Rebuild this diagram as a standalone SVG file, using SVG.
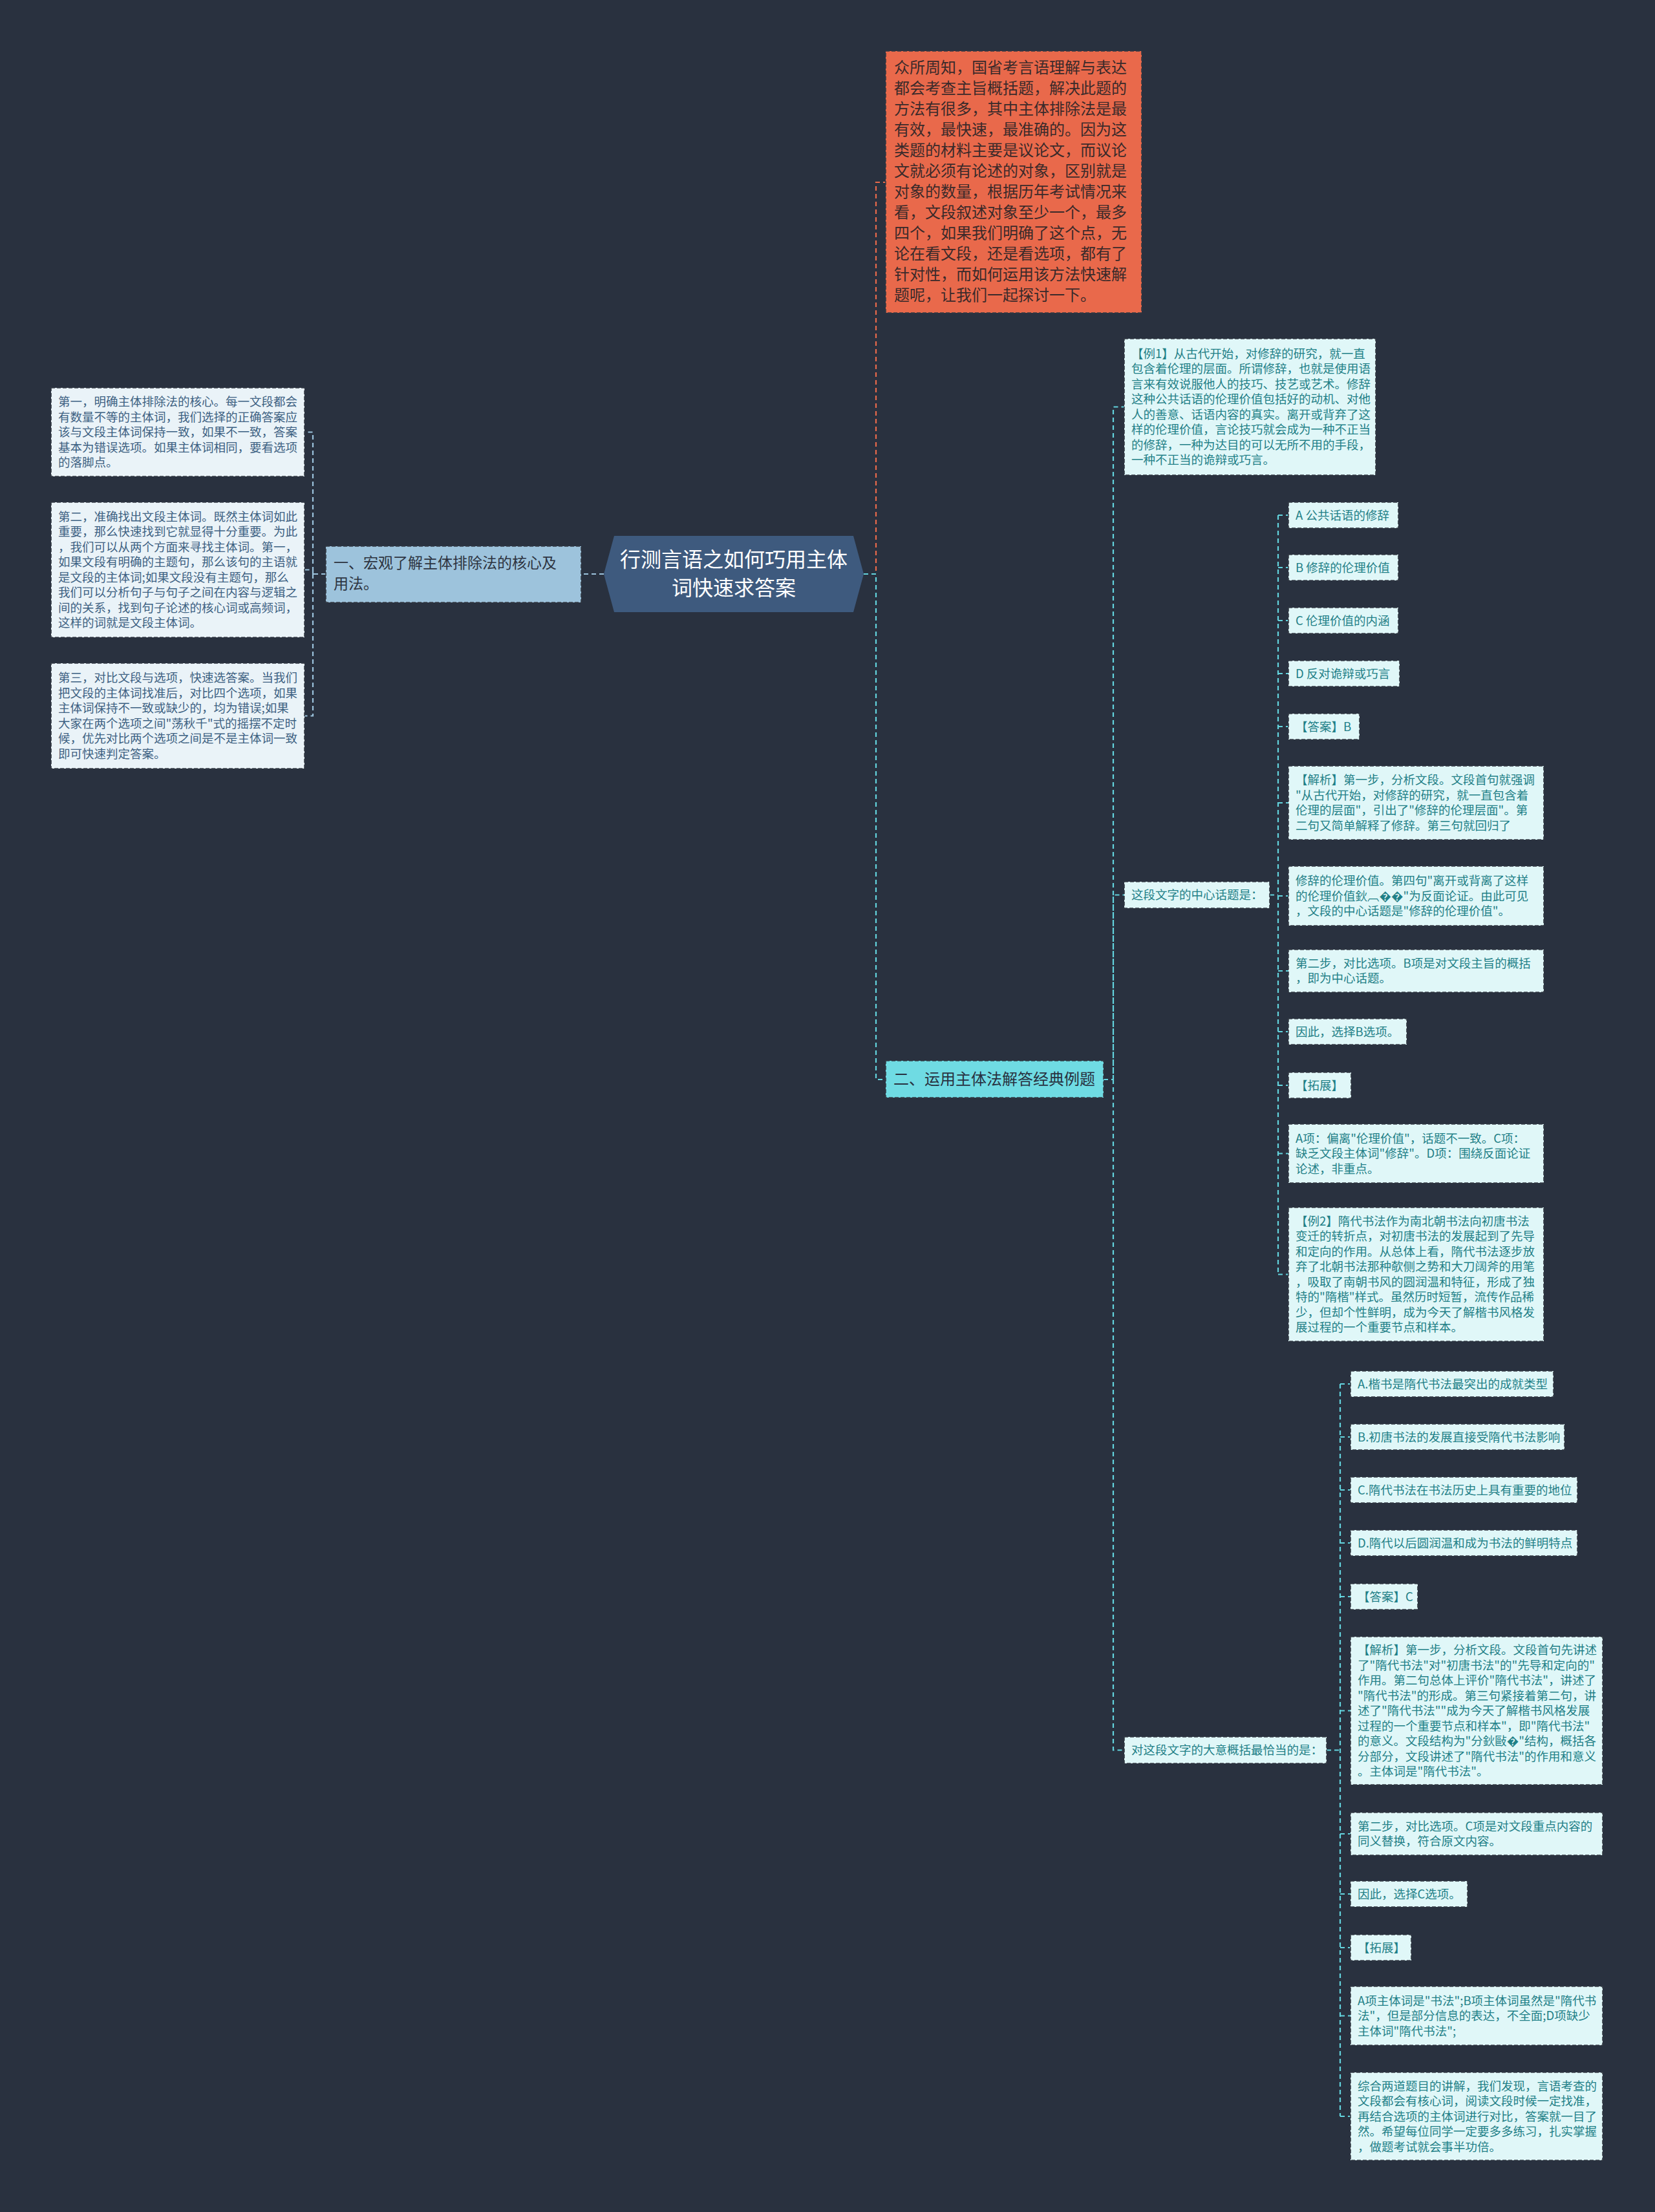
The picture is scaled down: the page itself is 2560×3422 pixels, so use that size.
<svg xmlns="http://www.w3.org/2000/svg" width="2560" height="3422" viewBox="0 0 2560 3422">
<style>
text{font-family:"Noto Sans CJK SC","Noto Sans",sans-serif;}
.bd{stroke:#333a44;stroke-width:1.6;stroke-dasharray:6,3;}
.lf{fill:#e0f7f8;}
.lt{fill:#1f8087;font-size:18.5px;}
.ll{fill:#eaf3f8;}
.llt{fill:#3d6182;font-size:18.5px;}
.cn{fill:none;stroke-width:2.2;stroke-dasharray:7,5;}
.cy{stroke:#63d4de;}
.lb{stroke:#9cc3dd;}
.or{stroke:#e9694b;}
</style>
<rect x="0" y="0" width="2560" height="3422" fill="#29313f"/>

<g id="connectors">
<path class="cn lb" d="M934 888 H899"/>
<path class="cn lb" d="M504 888 H484 V668.5 H471 M484 888 V881.5 H471 M484 888 V1107.5 H471"/>
<path class="cn or" d="M1336 888 H1355 V282 H1370"/>
<path class="cn cy" d="M1336 888 H1355 V1670 H1370"/>
<path class="cn cy" d="M1707 1670 H1722 V629.5 H1739 M1722 1670 V1384.5 H1739 M1722 1670 V2707.5 H1739"/>
<path class="cn cy" d="M1964 1384.5 H1977 M1977 797 V1971.5 M1977 797 H1993 M1977 878 H1993 M1977 960 H1993 M1977 1042 H1993 M1977 1124 H1993 M1977 1242 H1993 M1977 1386 H1993 M1977 1502 H1993 M1977 1596 H1993 M1977 1679 H1993 M1977 1784.5 H1993 M1977 1971.5 H1993"/>
<path class="cn cy" d="M2052 2707.5 H2073 M2073 2141 V3274 M2073 2141 H2089 M2073 2223 H2089 M2073 2305 H2089 M2073 2387 H2089 M2073 2470 H2089 M2073 2646.5 H2089 M2073 2837 H2089 M2073 2930 H2089 M2073 3013 H2089 M2073 3118.5 H2089 M2073 3274 H2089"/>
</g>

<g id="root">
<polygon points="934,888 950,829 1320,829 1336,888 1320,947 950,947" fill="#3e5a7e"/>
<text x="1135" y="877" fill="#ffffff" font-size="32" text-anchor="middle">行测言语之如何巧用主体</text>
<text x="1135" y="921" fill="#ffffff" font-size="32" text-anchor="middle">词快速求答案</text>
</g>

<g id="intro">
<rect x="1370" y="79" width="396" height="405" fill="#e9694b" class="bd"/>
<text x="1383" y="113" fill="#3a2a2a" font-size="24">
<tspan x="1383">众所周知，国省考言语理解与表达</tspan>
<tspan x="1383" dy="32">都会考查主旨概括题，解决此题的</tspan>
<tspan x="1383" dy="32">方法有很多，其中主体排除法是最</tspan>
<tspan x="1383" dy="32">有效，最快速，最准确的。因为这</tspan>
<tspan x="1383" dy="32">类题的材料主要是议论文，而议论</tspan>
<tspan x="1383" dy="32">文就必须有论述的对象，区别就是</tspan>
<tspan x="1383" dy="32">对象的数量，根据历年考试情况来</tspan>
<tspan x="1383" dy="32">看，文段叙述对象至少一个，最多</tspan>
<tspan x="1383" dy="32">四个，如果我们明确了这个点，无</tspan>
<tspan x="1383" dy="32">论在看文段，还是看选项，都有了</tspan>
<tspan x="1383" dy="32">针对性，而如何运用该方法快速解</tspan>
<tspan x="1383" dy="32">题呢，让我们一起探讨一下。</tspan>
</text>
</g>

<g id="branch1">
<rect x="504" y="845" width="395" height="87" fill="#9dc3dc" class="bd"/>
<text x="516" y="879" fill="#2d3340" font-size="23">
<tspan x="516">一、宏观了解主体排除法的核心及</tspan>
<tspan x="516" dy="32">用法。</tspan>
</text>
</g>

<g id="left1">
<rect x="79" y="600" width="392" height="137" class="ll bd"/>
<text x="90" y="628" class="llt">
<tspan x="90">第一，明确主体排除法的核心。每一文段都会</tspan>
<tspan x="90" dy="23.5">有数量不等的主体词，我们选择的正确答案应</tspan>
<tspan x="90" dy="23.5">该与文段主体词保持一致，如果不一致，答案</tspan>
<tspan x="90" dy="23.5">基本为错误选项。如果主体词相同，要看选项</tspan>
<tspan x="90" dy="23.5">的落脚点。</tspan>
</text>
</g>
<g id="left2">
<rect x="79" y="777" width="392" height="209" class="ll bd"/>
<text x="90" y="805.75" class="llt">
<tspan x="90">第二，准确找出文段主体词。既然主体词如此</tspan>
<tspan x="90" dy="23.5">重要，那么快速找到它就显得十分重要。为此</tspan>
<tspan x="90" dy="23.5">，我们可以从两个方面来寻找主体词。第一，</tspan>
<tspan x="90" dy="23.5">如果文段有明确的主题句，那么该句的主语就</tspan>
<tspan x="90" dy="23.5">是文段的主体词;如果文段没有主题句，那么</tspan>
<tspan x="90" dy="23.5">我们可以分析句子与句子之间在内容与逻辑之</tspan>
<tspan x="90" dy="23.5">间的关系，找到句子论述的核心词或高频词，</tspan>
<tspan x="90" dy="23.5">这样的词就是文段主体词。</tspan>
</text>
</g>
<g id="left3">
<rect x="79" y="1026" width="392" height="163" class="ll bd"/>
<text x="90" y="1055.25" class="llt">
<tspan x="90">第三，对比文段与选项，快速选答案。当我们</tspan>
<tspan x="90" dy="23.5">把文段的主体词找准后，对比四个选项，如果</tspan>
<tspan x="90" dy="23.5">主体词保持不一致或缺少的，均为错误;如果</tspan>
<tspan x="90" dy="23.5">大家在两个选项之间"荡秋千"式的摇摆不定时</tspan>
<tspan x="90" dy="23.5">候，优先对比两个选项之间是不是主体词一致</tspan>
<tspan x="90" dy="23.5">即可快速判定答案。</tspan>
</text>
</g>

<g id="branch2">
<rect x="1370" y="1641" width="337" height="57" fill="#6fdbe3" class="bd"/>
<text x="1382" y="1678" fill="#283140" font-size="24">二、运用主体法解答经典例题</text>
</g>

<g id="ex1">
<rect x="1739" y="524" width="389" height="211" class="lf bd"/>
<text x="1750" y="553.75" class="lt">
<tspan x="1750">【例1】从古代开始，对修辞的研究，就一直</tspan>
<tspan x="1750" dy="23.5">包含着伦理的层面。所谓修辞，也就是使用语</tspan>
<tspan x="1750" dy="23.5">言来有效说服他人的技巧、技艺或艺术。修辞</tspan>
<tspan x="1750" dy="23.5">这种公共话语的伦理价值包括好的动机、对他</tspan>
<tspan x="1750" dy="23.5">人的善意、话语内容的真实。离开或背弃了这</tspan>
<tspan x="1750" dy="23.5">样的伦理价值，言论技巧就会成为一种不正当</tspan>
<tspan x="1750" dy="23.5">的修辞，一种为达目的可以无所不用的手段，</tspan>
<tspan x="1750" dy="23.5">一种不正当的诡辩或巧言。</tspan>
</text>
</g>

<g id="q1">
<rect x="1739" y="1364" width="225" height="41" class="lf bd"/>
<text x="1750" y="1391" class="lt">这段文字的中心话题是：</text>
</g>

<g id="q1a"><rect x="1993" y="777" width="170" height="40" class="lf bd"/><text x="2004" y="803.5" class="lt">A 公共话语的修辞</text></g>
<g id="q1b"><rect x="1993" y="858" width="170" height="40" class="lf bd"/><text x="2004" y="884.5" class="lt">B 修辞的伦理价值</text></g>
<g id="q1c"><rect x="1993" y="940" width="170" height="40" class="lf bd"/><text x="2004" y="966.5" class="lt">C 伦理价值的内涵</text></g>
<g id="q1d"><rect x="1993" y="1022" width="172" height="40" class="lf bd"/><text x="2004" y="1048.5" class="lt">D 反对诡辩或巧言</text></g>
<g id="q1ans"><rect x="1993" y="1104" width="110" height="40" class="lf bd"/><text x="2004" y="1130.5" class="lt">【答案】B</text></g>
<g id="q1an1">
<rect x="1993" y="1185" width="395" height="114" class="lf bd"/>
<text x="2004" y="1213.25" class="lt">
<tspan x="2004">【解析】第一步，分析文段。文段首句就强调</tspan>
<tspan x="2004" dy="23.5">"从古代开始，对修辞的研究，就一直包含着</tspan>
<tspan x="2004" dy="23.5">伦理的层面"，引出了"修辞的伦理层面"。第</tspan>
<tspan x="2004" dy="23.5">二句又简单解释了修辞。第三句就回归了</tspan>
</text>
</g>
<g id="q1an2">
<rect x="1993" y="1340" width="395" height="92" class="lf bd"/>
<text x="2004" y="1369" class="lt">
<tspan x="2004">修辞的伦理价值。第四句"离开或背离了这样</tspan>
<tspan x="2004" dy="23.5">的伦理价值鈥︹��"为反面论证。由此可见</tspan>
<tspan x="2004" dy="23.5">，文段的中心话题是"修辞的伦理价值"。</tspan>
</text>
</g>
<g id="q1an3">
<rect x="1993" y="1469" width="395" height="66" class="lf bd"/>
<text x="2004" y="1496.75" class="lt">
<tspan x="2004">第二步，对比选项。B项是对文段主旨的概括</tspan>
<tspan x="2004" dy="23.5">，即为中心话题。</tspan>
</text>
</g>
<g id="q1an4"><rect x="1993" y="1576" width="183" height="40" class="lf bd"/><text x="2004" y="1602.5" class="lt">因此，选择B选项。</text></g>
<g id="q1ext"><rect x="1993" y="1659" width="97" height="40" class="lf bd"/><text x="2004" y="1685.5" class="lt">【拓展】</text></g>
<g id="q1ext2">
<rect x="1993" y="1739" width="395" height="91" class="lf bd"/>
<text x="2004" y="1767.5" class="lt">
<tspan x="2004">A项：偏离"伦理价值"，话题不一致。C项：</tspan>
<tspan x="2004" dy="23.5">缺乏文段主体词"修辞"。D项：围绕反面论证</tspan>
<tspan x="2004" dy="23.5">论述，非重点。</tspan>
</text>
</g>
<g id="ex2">
<rect x="1993" y="1868" width="395" height="207" class="lf bd"/>
<text x="2004" y="1895.75" class="lt">
<tspan x="2004">【例2】隋代书法作为南北朝书法向初唐书法</tspan>
<tspan x="2004" dy="23.5">变迁的转折点，对初唐书法的发展起到了先导</tspan>
<tspan x="2004" dy="23.5">和定向的作用。从总体上看，隋代书法逐步放</tspan>
<tspan x="2004" dy="23.5">弃了北朝书法那种欹侧之势和大刀阔斧的用笔</tspan>
<tspan x="2004" dy="23.5">，吸取了南朝书风的圆润温和特征，形成了独</tspan>
<tspan x="2004" dy="23.5">特的"隋楷"样式。虽然历时短暂，流传作品稀</tspan>
<tspan x="2004" dy="23.5">少，但却个性鲜明，成为今天了解楷书风格发</tspan>
<tspan x="2004" dy="23.5">展过程的一个重要节点和样本。</tspan>
</text>
</g>

<g id="q2">
<rect x="1739" y="2687" width="313" height="41" class="lf bd"/>
<text x="1750" y="2714" class="lt">对这段文字的大意概括最恰当的是：</text>
</g>

<g id="q2a"><rect x="2089" y="2121" width="314" height="40" class="lf bd"/><text x="2100" y="2147.5" class="lt">A.楷书是隋代书法最突出的成就类型</text></g>
<g id="q2b"><rect x="2089" y="2203" width="331" height="40" class="lf bd"/><text x="2100" y="2229.5" class="lt">B.初唐书法的发展直接受隋代书法影响</text></g>
<g id="q2c"><rect x="2089" y="2285" width="351" height="40" class="lf bd"/><text x="2100" y="2311.5" class="lt">C.隋代书法在书法历史上具有重要的地位</text></g>
<g id="q2d"><rect x="2089" y="2367" width="351" height="40" class="lf bd"/><text x="2100" y="2393.5" class="lt">D.隋代以后圆润温和成为书法的鲜明特点</text></g>
<g id="q2ans"><rect x="2089" y="2450" width="104" height="40" class="lf bd"/><text x="2100" y="2476.5" class="lt">【答案】C</text></g>
<g id="q2an1">
<rect x="2089" y="2532" width="390" height="229" class="lf bd"/>
<text x="2100" y="2559" class="lt">
<tspan x="2100">【解析】第一步，分析文段。文段首句先讲述</tspan>
<tspan x="2100" dy="23.5">了"隋代书法"对"初唐书法"的"先导和定向的"</tspan>
<tspan x="2100" dy="23.5">作用。第二句总体上评价"隋代书法"，讲述了</tspan>
<tspan x="2100" dy="23.5">"隋代书法"的形成。第三句紧接着第二句，讲</tspan>
<tspan x="2100" dy="23.5">述了"隋代书法""成为今天了解楷书风格发展</tspan>
<tspan x="2100" dy="23.5">过程的一个重要节点和样本"，即"隋代书法"</tspan>
<tspan x="2100" dy="23.5">的意义。文段结构为"分鈥敺�"结构，概括各</tspan>
<tspan x="2100" dy="23.5">分部分，文段讲述了"隋代书法"的作用和意义</tspan>
<tspan x="2100" dy="23.5">。主体词是"隋代书法"。</tspan>
</text>
</g>
<g id="q2an2">
<rect x="2089" y="2804" width="390" height="66" class="lf bd"/>
<text x="2100" y="2831.75" class="lt">
<tspan x="2100">第二步，对比选项。C项是对文段重点内容的</tspan>
<tspan x="2100" dy="23.5">同义替换，符合原文内容。</tspan>
</text>
</g>
<g id="q2an3"><rect x="2089" y="2910" width="181" height="40" class="lf bd"/><text x="2100" y="2936.5" class="lt">因此，选择C选项。</text></g>
<g id="q2ext"><rect x="2089" y="2993" width="94" height="40" class="lf bd"/><text x="2100" y="3019.5" class="lt">【拓展】</text></g>
<g id="q2ext2">
<rect x="2089" y="3073" width="390" height="91" class="lf bd"/>
<text x="2100" y="3101.5" class="lt">
<tspan x="2100">A项主体词是"书法";B项主体词虽然是"隋代书</tspan>
<tspan x="2100" dy="23.5">法"，但是部分信息的表达，不全面;D项缺少</tspan>
<tspan x="2100" dy="23.5">主体词"隋代书法";</tspan>
</text>
</g>
<g id="summary">
<rect x="2089" y="3206" width="390" height="136" class="lf bd"/>
<text x="2100" y="3233.5" class="lt">
<tspan x="2100">综合两道题目的讲解，我们发现，言语考查的</tspan>
<tspan x="2100" dy="23.5">文段都会有核心词，阅读文段时候一定找准，</tspan>
<tspan x="2100" dy="23.5">再结合选项的主体词进行对比，答案就一目了</tspan>
<tspan x="2100" dy="23.5">然。希望每位同学一定要多多练习，扎实掌握</tspan>
<tspan x="2100" dy="23.5">，做题考试就会事半功倍。</tspan>
</text>
</g>
</svg>
